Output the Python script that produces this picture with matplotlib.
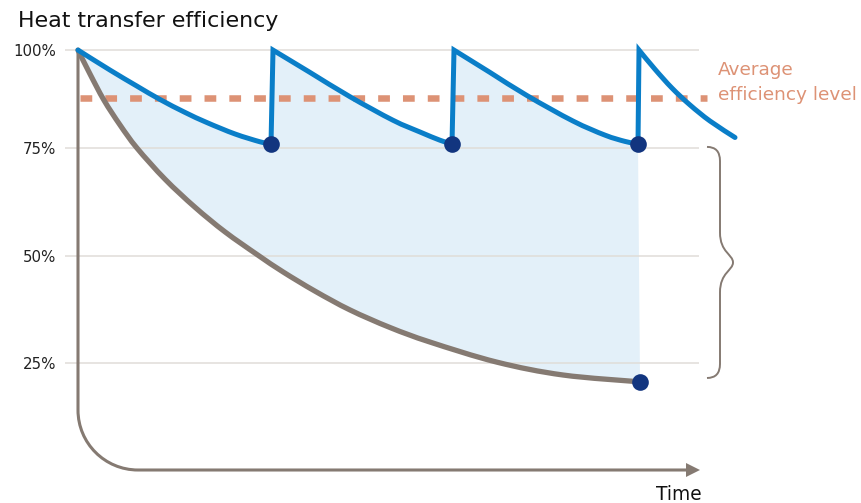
import numpy as np
import matplotlib
matplotlib.use("Agg")
import matplotlib.pyplot as plt
from matplotlib.path import Path
from matplotlib.patches import PathPatch

plt.rcParams['font.family'] = ['DejaVu Sans']

# sawtooth: efficiency with regular cleaning (time, % efficiency), one list per cycle
cycle_t = [[0, 3.2, 5.9, 8.2, 10.7, 12.9, 15.7, 18.2, 19.3],
           [19.5, 23.2, 27.2, 31.5, 34.2, 36.2, 37.4],
           [37.6, 41.2, 44.9, 49.5, 52.7, 54.7, 56.0],
           [56.1, 57.7, 59.4, 61.2, 63.2, 65.7]]
cycle_v = [[100, 94.9, 90.8, 87.4, 84.1, 81.5, 78.6, 76.6, 76.0],
           [100, 94.3, 88.1, 82.1, 79.1, 77.0, 76.0],
           [100, 94.3, 88.4, 81.9, 78.3, 76.7, 76.0],
           [100, 95.1, 90.3, 86.0, 81.9, 77.7]]

# efficiency without cleaning
gray_t = [0, 1.2, 2.6, 4.2, 5.9, 8.7, 11.7, 14.7, 18.0, 20.5, 23.7,
          27.2, 31.2, 35.2, 41.9, 48.5, 56.2]
gray_v = [100, 93.9, 87.2, 80.9, 75.0, 67.8, 61.3, 55.6, 50.2, 46.3, 41.8,
          37.4, 33.3, 29.9, 25.2, 22.2, 20.6]

# cleaning moments and end of the uncleaned run
clean_t = [19.3, 37.4, 56.0]
clean_v = [76.0, 76.0, 76.0]
end_t = [56.2]
end_v = [20.6]

avg_level = 87.8
tick_vals = [25, 50, 75, 100]
tick_labels = ['25%', '50%', '75%', '100%']

BLUE = '#0a7ec8'
DARK = '#12357f'
GRAY = '#857a72'
SALMON = '#dd9275'
FILL = '#e3f0f9'

# uneven spacing of the value axis
val_pts = [-100, 0, 25, 50, 75, 100, 200]
pix_pts = [-428, 0, 107, 214, 322, 420, 812]


def fwd(v):
    return np.interp(v, val_pts, pix_pts)


def inv(p):
    return np.interp(p, pix_pts, val_pts)


def smooth(ts, vs, first=Path.MOVETO):
    # catmull-rom through the points, built in screen-like space
    p = np.column_stack([ts, fwd(np.array(vs, float))])
    n = len(p)
    verts = [p[0]]
    codes = [first]
    for i in range(n - 1):
        p0 = p[max(i - 1, 0)]
        p3 = p[min(i + 2, n - 1)]
        c1 = p[i] + (p[i + 1] - p0) / 6
        c2 = p[i + 1] - (p3 - p[i]) / 6
        verts += [c1, c2, p[i + 1]]
        codes += [Path.CURVE4] * 3
    verts = [(x, float(inv(h))) for x, h in verts]
    return verts, codes


W, H = 861, 503
fig = plt.figure(figsize=(W / 100, H / 100), dpi=100)
ax = fig.add_axes([65 / W, 33 / H, 634 / W, 425 / H])
ax.set_yscale('function', functions=(fwd, inv))
ax.set_xlim(-1.3, 62.1)
ax.set_ylim(0, 101.3)

ax.set_yticks(tick_vals)
ax.set_yticklabels(tick_labels)
ax.set_xticks([])
ax.tick_params(axis='y', length=0, pad=6.5, labelsize=10.8, labelcolor='#222222')
for s in ax.spines.values():
    s.set_visible(False)
ax.set_axisbelow('line')
ax.grid(axis='y', color='#e0ddd8', lw=1.1)

# sawtooth path and the shaded gap under it
blue_verts, blue_codes = [], []
for k, (ts, vs) in enumerate(zip(cycle_t, cycle_v)):
    v, c = smooth(ts, vs, Path.MOVETO if k == 0 else Path.LINETO)
    blue_verts += v
    blue_codes += c
    if k == 2:
        fill_verts, fill_codes = list(blue_verts), list(blue_codes)

gv, gc = smooth(gray_t[::-1], gray_v[::-1], Path.LINETO)
fill_verts += gv + [(0, 100)]
fill_codes += gc + [Path.CLOSEPOLY]
ax.add_patch(PathPatch(Path(fill_verts, fill_codes), facecolor=FILL, lw=0, zorder=1))

ax.plot([0.2, 62.9], [avg_level, avg_level], color=SALMON, lw=4.7,
        dashes=(1.8, 2.0), zorder=2.5, clip_on=False)

# time axis with rounded corner
r_h, r_v, k = 6, 14, 0.448
axis_path = Path([(0, 100), (0, r_v), (0, r_v * k), (r_h * k, 0), (r_h, 0), (61.0, 0)],
                 [Path.MOVETO, Path.LINETO, Path.CURVE4, Path.CURVE4, Path.CURVE4, Path.LINETO])
ax.add_patch(PathPatch(axis_path, fill=False, color=GRAY, lw=2.2, zorder=3, clip_on=False))
ax.plot([61.45], [0], marker='>', ms=10.5, color=GRAY, mew=0, zorder=3, clip_on=False)

gv, gc = smooth(gray_t, gray_v)
ax.add_patch(PathPatch(Path(gv, gc), fill=False, color=GRAY, lw=3.8,
                       capstyle='round', zorder=3, clip_on=False))
ax.add_patch(PathPatch(Path(blue_verts, blue_codes), fill=False, color=BLUE, lw=3.6,
                       capstyle='round', joinstyle='miter', zorder=4, clip_on=False))
ax.plot(clean_t + end_t, clean_v + end_v, 'o', ms=12, color=DARK, mew=0, zorder=5, clip_on=False)

# brace spanning the efficiency gap
h_top, h_bot = fwd(75.3), fwd(21.5)
h_mid = (h_top + h_bot) / 2
x0, x1, x2 = 62.9, 64.2, 65.5
brace = [(x0, h_top), (x1, h_top), (x1, h_top - 14), (x1, h_mid + 30),
         (x1, h_mid + 10), (x2, h_mid + 8), (x2, h_mid),
         (x2, h_mid - 8), (x1, h_mid - 10), (x1, h_mid - 30),
         (x1, h_bot + 14), (x1, h_bot), (x0, h_bot)]
brace_codes = [Path.MOVETO, Path.CURVE3, Path.CURVE3, Path.LINETO,
               Path.CURVE4, Path.CURVE4, Path.CURVE4,
               Path.CURVE4, Path.CURVE4, Path.CURVE4,
               Path.LINETO, Path.CURVE3, Path.CURVE3]
brace = [(x, float(inv(h))) for x, h in brace]
ax.add_patch(PathPatch(Path(brace, brace_codes), fill=False, color=GRAY, lw=1.4,
                       zorder=3, clip_on=False))

fig.text(18 / W, 1 - 27 / H, 'Heat transfer efficiency', fontsize=15.9,
         color='#111111', va='baseline', ha='left')
fig.text(718 / W, 1 - 75 / H, 'Average', fontsize=13.3, color=SALMON,
         va='baseline', ha='left')
fig.text(718 / W, 1 - 100 / H, 'efficiency level', fontsize=13.3, color=SALMON,
         va='baseline', ha='left')
fig.text(679 / W, 1 - 500 / H, 'Time', fontsize=13.4, color='#111111',
         va='baseline', ha='center')

fig.savefig('out.png', dpi=100)
